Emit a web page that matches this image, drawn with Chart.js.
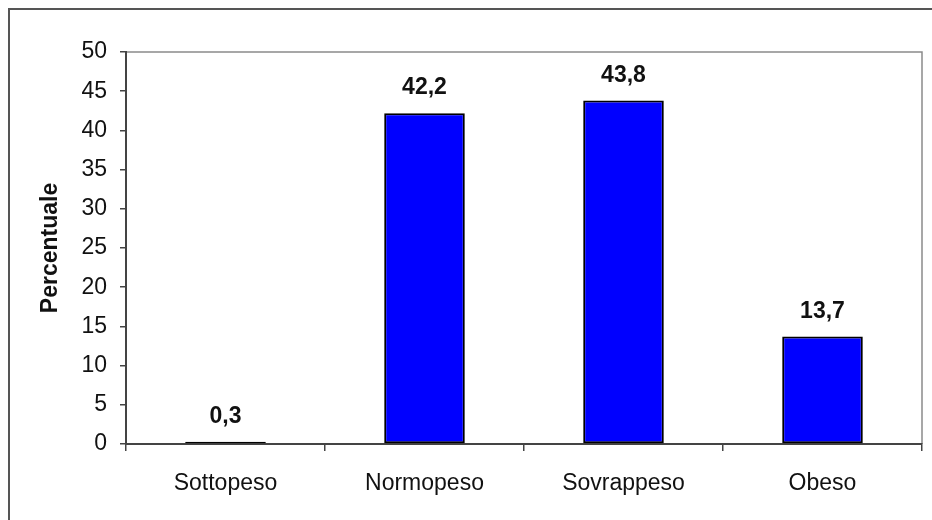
<!DOCTYPE html>
<html>
<head>
<meta charset="utf-8">
<script src="https://cdn.jsdelivr.net/npm/chart.js@4/dist/chart.umd.min.js"></script>
<style>
html,body{margin:0;padding:0;background:#fff;}
#wrap{width:932px;height:520px;position:relative;}
</style>
</head>
<body>
<div id="wrap"><canvas id="c" width="932" height="520"></canvas></div>
<script>
const categories = ["Sottopeso", "Normopeso", "Sovrappeso", "Obeso"];
const values = [0.3, 42.2, 43.8, 13.7];
const valueLabels = ["0,3", "42,2", "43,8", "13,7"];
const yTitle = "Percentuale";

const FONT = "'Liberation Sans', Arial, sans-serif";
const TEXT = "#111";

const frame = {
  id: "frame",
  beforeDraw(chart) {
    const ctx = chart.ctx;
    ctx.save();
    ctx.fillStyle = "#fff";
    ctx.fillRect(0, 0, chart.width, chart.height);
    ctx.strokeStyle = "#555";
    ctx.lineWidth = 2;
    ctx.beginPath();
    ctx.moveTo(9, chart.height);
    ctx.lineTo(9, 9);
    ctx.lineTo(chart.width, 9);
    ctx.stroke();
    const a = chart.chartArea;
    ctx.strokeStyle = "#8a8a8a";
    ctx.lineWidth = 1.5;
    ctx.beginPath();
    ctx.moveTo(a.left, a.top);
    ctx.lineTo(a.right, a.top);
    ctx.lineTo(a.right, a.bottom);
    ctx.stroke();
    ctx.restore();
  }
};

const dataLabels = {
  id: "dataLabels",
  afterDatasetsDraw(chart) {
    const ctx = chart.ctx;
    const meta = chart.getDatasetMeta(0);
    ctx.save();
    ctx.font = "bold 23px " + FONT;
    ctx.fillStyle = TEXT;
    ctx.textAlign = "center";
    ctx.textBaseline = "middle";
    meta.data.forEach((bar, i) => {
      ctx.fillText(valueLabels[i], bar.x, bar.y - 25);
    });
    ctx.restore();
  }
};

new Chart(document.getElementById("c"), {
  type: "bar",
  data: {
    labels: categories,
    datasets: [{
      data: values,
      backgroundColor: "#0000ff",
      borderColor: "#000",
      borderWidth: 2,
      borderSkipped: false,
      categoryPercentage: 1,
      barPercentage: 0.405
    }]
  },
  plugins: [frame, dataLabels],
  options: {
    responsive: false,
    animation: false,
    layout: { padding: { top: 52, right: 10, left: 0, bottom: 0 } },
    plugins: { legend: { display: false }, tooltip: { enabled: false } },
    scales: {
      x: {
        offset: true,
        grid: { display: true, drawOnChartArea: false, drawTicks: true, tickLength: 7, offset: true, color: "#444", lineWidth: 1.5 },
        border: { display: true, color: "#444", width: 2 },
        ticks: { color: TEXT, font: { family: FONT, size: 23 }, padding: 19, maxRotation: 0 },
        afterFit(s) { s.height = 76; }
      },
      y: {
        min: 0, max: 50,
        ticks: { stepSize: 5, color: TEXT, font: { family: FONT, size: 23 }, padding: 13 },
        grid: { display: true, drawOnChartArea: false, drawTicks: true, tickLength: 6, color: "#444", lineWidth: 1.5 },
        border: { display: true, color: "#444", width: 2 },
        title: { display: true, text: yTitle, color: TEXT, font: { family: FONT, size: 23, weight: "bold" }, padding: { top: 37, bottom: 0 } },
        afterFit(s) { s.width = 126; }
      }
    }
  }
});
</script>
</body>
</html>
